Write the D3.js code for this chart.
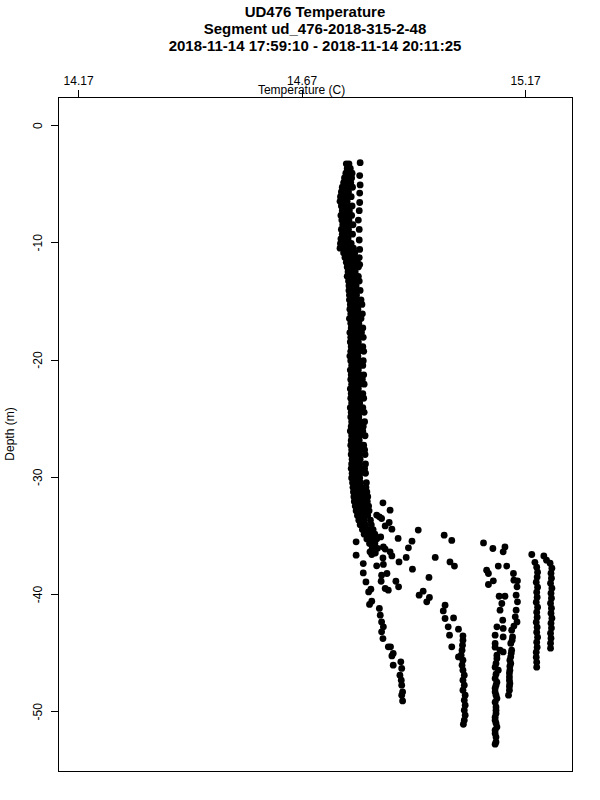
<!DOCTYPE html>
<html>
<head>
<meta charset="utf-8">
<script src="https://cdn.jsdelivr.net/npm/d3@7"></script>
<style>
  body { margin: 0; background: #fff; }
  svg { display: block; font-family: "Liberation Sans", Arial, Helvetica, sans-serif; }
</style>
</head>
<body>
<svg id="chart" width="600" height="800"></svg>
<script>
const titleLines = [
  "UD476 Temperature",
  "Segment ud_476-2018-315-2-48",
  "2018-11-14 17:59:10 - 2018-11-14 20:11:25"
];
const xLabel = "Temperature (C)";
const yLabel = "Depth (m)";
const xTicks = [14.17, 14.67, 15.17];
const yTicks = [0, -10, -20, -30, -40, -50];
const xLimits = [14.125, 15.275];
const yLimits = [2.4, -55.1];

// dense part of the profile: [depth, temperatures at that depth...]
const profileRows = [
  [-3.3, 14.770, 14.776],
  [-3.7, 14.772, 14.779],
  [-4.1, 14.769, 14.777, 14.783],
  [-4.5, 14.766, 14.774, 14.782],
  [-4.9, 14.764, 14.772, 14.780],
  [-5.3, 14.761, 14.769, 14.777, 14.784],
  [-5.7, 14.759, 14.767, 14.775],
  [-6.1, 14.757, 14.765, 14.773, 14.781],
  [-6.5, 14.756, 14.764, 14.772],
  [-6.9, 14.759, 14.767, 14.775, 14.783],
  [-7.3, 14.761, 14.769, 14.777],
  [-7.7, 14.758, 14.766, 14.774, 14.782],
  [-8.1, 14.760, 14.768, 14.776],
  [-8.5, 14.762, 14.770, 14.778, 14.785],
  [-8.9, 14.759, 14.767, 14.775],
  [-9.3, 14.761, 14.769, 14.777, 14.784],
  [-9.7, 14.758, 14.766, 14.774],
  [-10.1, 14.757, 14.765, 14.773, 14.781],
  [-10.5, 14.756, 14.766, 14.774, 14.786],
  [-10.9, 14.764, 14.772, 14.780, 14.789],
  [-11.3, 14.767, 14.775, 14.783, 14.792],
  [-11.7, 14.770, 14.778, 14.786, 14.795],
  [-12.1, 14.772, 14.780, 14.788, 14.797],
  [-12.5, 14.774, 14.782, 14.790],
  [-12.9, 14.772, 14.780, 14.788, 14.797],
  [-13.3, 14.775, 14.783, 14.791, 14.799],
  [-13.7, 14.776, 14.784, 14.792],
  [-14.1, 14.776, 14.784, 14.792, 14.801],
  [-14.5, 14.777, 14.785, 14.793],
  [-14.9, 14.777, 14.785, 14.793, 14.803],
  [-15.3, 14.779, 14.788, 14.797, 14.805],
  [-15.7, 14.778, 14.787, 14.796],
  [-16.1, 14.780, 14.789, 14.798, 14.806],
  [-16.5, 14.777, 14.786, 14.795, 14.803],
  [-16.9, 14.780, 14.789, 14.798],
  [-17.3, 14.781, 14.790, 14.799, 14.807],
  [-17.7, 14.778, 14.787, 14.796, 14.804],
  [-18.1, 14.780, 14.789, 14.798, 14.808],
  [-18.5, 14.779, 14.788, 14.797],
  [-18.9, 14.781, 14.790, 14.799, 14.807],
  [-19.3, 14.780, 14.789, 14.798, 14.809],
  [-19.7, 14.778, 14.787, 14.796],
  [-20.1, 14.780, 14.789, 14.798, 14.808],
  [-20.5, 14.782, 14.791, 14.800, 14.807],
  [-20.9, 14.779, 14.788, 14.797],
  [-21.3, 14.781, 14.790, 14.799, 14.809],
  [-21.7, 14.780, 14.789, 14.798, 14.806],
  [-22.1, 14.782, 14.791, 14.800, 14.810],
  [-22.5, 14.779, 14.788, 14.797],
  [-22.9, 14.781, 14.790, 14.799, 14.807],
  [-23.3, 14.780, 14.789, 14.798, 14.809],
  [-23.7, 14.782, 14.791, 14.800],
  [-24.1, 14.779, 14.788, 14.797, 14.807],
  [-24.5, 14.781, 14.790, 14.799, 14.810],
  [-24.9, 14.780, 14.789, 14.798],
  [-25.3, 14.782, 14.791, 14.800, 14.811],
  [-25.7, 14.781, 14.790, 14.799, 14.808],
  [-26.1, 14.779, 14.788, 14.797, 14.807],
  [-26.5, 14.782, 14.791, 14.800, 14.812],
  [-26.9, 14.781, 14.790, 14.799],
  [-27.3, 14.780, 14.789, 14.798, 14.809],
  [-27.7, 14.782, 14.791, 14.800, 14.811],
  [-28.1, 14.781, 14.790, 14.799, 14.812],
  [-28.5, 14.783, 14.792, 14.801],
  [-28.9, 14.782, 14.791, 14.800, 14.813],
  [-29.3, 14.781, 14.790, 14.799, 14.811],
  [-29.7, 14.783, 14.792, 14.801, 14.813],
  [-30.1, 14.782, 14.791, 14.800],
  [-30.5, 14.784, 14.793, 14.802, 14.815],
  [-30.9, 14.785, 14.794, 14.803, 14.814],
  [-31.3, 14.786, 14.795, 14.804, 14.816],
  [-31.7, 14.787, 14.796, 14.806, 14.818],
  [-32.1, 14.788, 14.798, 14.808, 14.817],
  [-32.5, 14.790, 14.800, 14.810, 14.820],
  [-32.9, 14.792, 14.802, 14.812, 14.821],
  [-33.3, 14.795, 14.806, 14.818],
  [-33.7, 14.798, 14.810, 14.824],
  [-34.1, 14.801, 14.813, 14.826],
  [-34.5, 14.806, 14.818, 14.830],
  [-34.9, 14.810, 14.822, 14.834],
  [-35.3, 14.816, 14.828, 14.838],
  [-35.7, 14.822, 14.834],
  [-36.1, 14.828, 14.840],
  [-36.5, 14.835]
];

// [temperature, depth] pairs
const upperStrays = [
  [14.801, -3.2], [14.800, -4.3], [14.801, -5.1], [14.800, -5.8], [14.800, -6.6],
  [14.799, -7.3], [14.797, -8.1], [14.799, -8.9], [14.799, -9.8], [14.800, -10.6],
  [14.799, -11.3], [14.800, -11.9]
];

const mixedScatter = [
  [14.852, -32.22], [14.868, -32.85], [14.838, -33.27], [14.844, -33.42], [14.849, -33.56],
  [14.866, -33.90], [14.857, -34.19], [14.872, -34.47], [14.931, -34.55], [14.886, -35.26],
  [14.847, -35.13], [14.917, -35.49], [14.792, -35.55], [14.909, -36.06], [14.853, -35.98],
  [14.857, -36.17], [14.868, -36.40], [14.872, -36.75], [14.792, -36.69], [14.823, -36.40],
  [14.827, -36.63], [14.904, -36.88], [14.852, -36.92], [14.888, -37.26], [14.808, -37.40],
  [14.838, -37.60], [14.853, -37.48], [14.918, -37.88], [14.808, -38.20], [14.849, -38.39],
  [14.861, -38.25], [14.955, -38.59], [14.848, -38.91], [14.814, -38.97], [14.881, -38.91],
  [14.887, -39.39], [14.857, -39.53], [14.864, -39.67], [14.825, -39.59], [14.820, -39.82],
  [14.942, -39.76], [14.933, -40.10], [14.956, -40.30], [14.950, -40.67], [14.827, -40.61],
  [14.822, -40.89]
];

const warmScatter = [
  [14.989, -34.98], [15.006, -35.43], [14.969, -36.88], [15.002, -37.26], [15.012, -37.62],
  [15.077, -35.64], [15.098, -36.12], [15.125, -35.98], [15.121, -36.40], [15.185, -36.63],
  [15.212, -36.75], [15.218, -37.11], [15.084, -37.97], [15.088, -38.25], [15.110, -37.62],
  [15.129, -37.62], [15.144, -38.25], [15.145, -38.82], [15.153, -38.88], [15.099, -38.88],
  [15.088, -39.19], [15.112, -40.19], [15.125, -40.19], [15.118, -40.81], [15.114, -41.38],
  [15.120, -42.23]
];

const branch1 = [
  [14.844, -41.23], [14.846, -41.81], [14.849, -42.38], [14.853, -42.80], [14.849, -43.23],
  [14.852, -43.80], [14.864, -44.51], [14.869, -44.51], [14.875, -45.07], [14.872, -45.28],
  [14.875, -46.07], [14.892, -45.79], [14.894, -46.35], [14.890, -46.93], [14.893, -47.35],
  [14.894, -47.78], [14.896, -48.35], [14.894, -48.63], [14.896, -49.12]
];

const branch2 = [
  [14.991, -40.95], [14.987, -41.44], [15.010, -42.04], [14.991, -42.09], [14.998, -42.80],
  [15.021, -43.00], [15.001, -43.51], [15.031, -43.57], [15.006, -44.51], [15.021, -45.37],
  [15.031, -43.94], [15.030, -44.37], [15.029, -44.79], [15.027, -45.22], [15.031, -45.65],
  [15.029, -46.07], [15.031, -46.50], [15.034, -46.93], [15.031, -47.35], [15.034, -47.78],
  [15.031, -48.21], [15.036, -48.63], [15.034, -49.06], [15.036, -49.49], [15.034, -49.91],
  [15.036, -50.34], [15.034, -50.77], [15.032, -51.11]
];

const branch3 = [
  [15.107, -42.80], [15.121, -42.94], [15.103, -43.51], [15.121, -43.66], [15.103, -44.22],
  [15.103, -44.54], [15.114, -44.79], [15.121, -44.94], [15.107, -45.22], [15.107, -45.50],
  [15.105, -45.93], [15.103, -46.24], [15.110, -46.50], [15.105, -46.84], [15.103, -47.21],
  [15.107, -47.52], [15.105, -47.78], [15.103, -48.03], [15.103, -48.35], [15.105, -48.63],
  [15.107, -48.91], [15.103, -49.23], [15.105, -49.63], [15.105, -49.91], [15.105, -50.19],
  [15.103, -50.51], [15.103, -50.77], [15.105, -51.02], [15.107, -51.34], [15.103, -51.62],
  [15.103, -51.90], [15.105, -52.21], [15.105, -52.62], [15.103, -52.81]
];

const branch4 = [
  [15.152, -39.39], [15.150, -40.10], [15.153, -40.67], [15.150, -41.38], [15.148, -41.95],
  [15.152, -42.38], [15.145, -42.74], [15.140, -43.09], [15.142, -43.66], [15.141, -43.94],
  [15.138, -44.22], [15.140, -44.79], [15.139, -45.05], [15.138, -45.36], [15.136, -45.65],
  [15.138, -45.93], [15.136, -46.16], [15.136, -46.50], [15.135, -46.75], [15.135, -47.07],
  [15.135, -47.35], [15.136, -47.63], [15.135, -47.86], [15.135, -48.21], [15.133, -48.63]
];

const branch5 = [
  [15.192, -37.30], [15.196, -37.71], [15.198, -38.14], [15.197, -38.56], [15.195, -38.99],
  [15.198, -39.42], [15.196, -39.84], [15.197, -40.27], [15.195, -40.70], [15.198, -41.12],
  [15.196, -41.55], [15.197, -41.98], [15.195, -42.40], [15.197, -42.83], [15.196, -43.26],
  [15.198, -43.68], [15.196, -44.11], [15.197, -44.54], [15.195, -44.96], [15.195, -45.39],
  [15.196, -45.82], [15.196, -46.24]
];

const branch6 = [
  [15.226, -37.37], [15.230, -37.80], [15.228, -38.22], [15.229, -38.65], [15.227, -39.08],
  [15.230, -39.50], [15.228, -39.93], [15.229, -40.36], [15.227, -40.78], [15.229, -41.21],
  [15.228, -41.64], [15.230, -42.06], [15.228, -42.49], [15.229, -42.91], [15.227, -43.34],
  [15.228, -43.77], [15.227, -44.20], [15.227, -44.62]
];

const margin = { top: 97, right: 28, bottom: 29, left: 58 };
const width = 600, height = 800;

const points = profileRows
  .flatMap(([depth, ...temps]) => temps.map(t => [t, depth]))
  .concat(upperStrays, mixedScatter, warmScatter,
          branch1, branch2, branch3, branch4, branch5, branch6);

const svg = d3.select("#chart");

const x = d3.scaleLinear()
  .domain(xLimits)
  .range([margin.left, width - margin.right]);

const y = d3.scaleLinear()
  .domain(yLimits)
  .range([margin.top, height - margin.bottom]);

// titles
svg.append("g")
  .selectAll("text")
  .data(titleLines)
  .enter().append("text")
  .attr("x", (margin.left + width - margin.right) / 2)
  .attr("y", (d, i) => 17 + i * 17)
  .attr("text-anchor", "middle")
  .attr("font-size", 15)
  .attr("font-weight", "bold")
  .text(d => d);

// points
svg.append("g")
  .selectAll("circle")
  .data(points)
  .enter().append("circle")
  .attr("cx", d => x(d[0]))
  .attr("cy", d => y(d[1]))
  .attr("r", 3.4)
  .attr("fill", "#000");

// top axis
const xAxis = svg.append("g")
  .attr("transform", `translate(0,${margin.top})`)
  .call(d3.axisTop(x).tickValues(xTicks).tickFormat(d3.format(".2f")).tickSize(7).tickPadding(5).tickSizeOuter(0));
xAxis.select(".domain").remove();

// left axis
const yAxis = svg.append("g")
  .attr("transform", `translate(${margin.left},0)`)
  .call(d3.axisLeft(y).tickValues(yTicks).tickFormat(d => String(d)).tickSize(7).tickSizeOuter(0));
yAxis.select(".domain").remove();
yAxis.selectAll(".tick text")
  .attr("x", null).attr("dy", null)
  .attr("text-anchor", "middle")
  .attr("transform", "translate(-16,0) rotate(-90)");

svg.selectAll(".tick text")
  .attr("font-family", "Liberation Sans, Arial, sans-serif")
  .attr("font-size", 12)
  .attr("fill", "#000");
svg.selectAll(".tick line").attr("stroke", "#000").attr("shape-rendering", "crispEdges");

// plot box
svg.append("rect")
  .attr("x", margin.left + 0.5)
  .attr("y", margin.top + 0.5)
  .attr("width", width - margin.left - margin.right)
  .attr("height", height - margin.top - margin.bottom)
  .attr("fill", "none")
  .attr("stroke", "#000")
  .attr("shape-rendering", "crispEdges");

// axis labels
svg.append("text")
  .attr("x", x(d3.mean(xTicks)))
  .attr("y", margin.top - 3)
  .attr("text-anchor", "middle")
  .attr("font-size", 12)
  .text(xLabel);

svg.append("text")
  .attr("transform", `translate(14,${(margin.top + height - margin.bottom) / 2}) rotate(-90)`)
  .attr("text-anchor", "middle")
  .attr("font-size", 12)
  .text(yLabel);
</script>
</body>
</html>
